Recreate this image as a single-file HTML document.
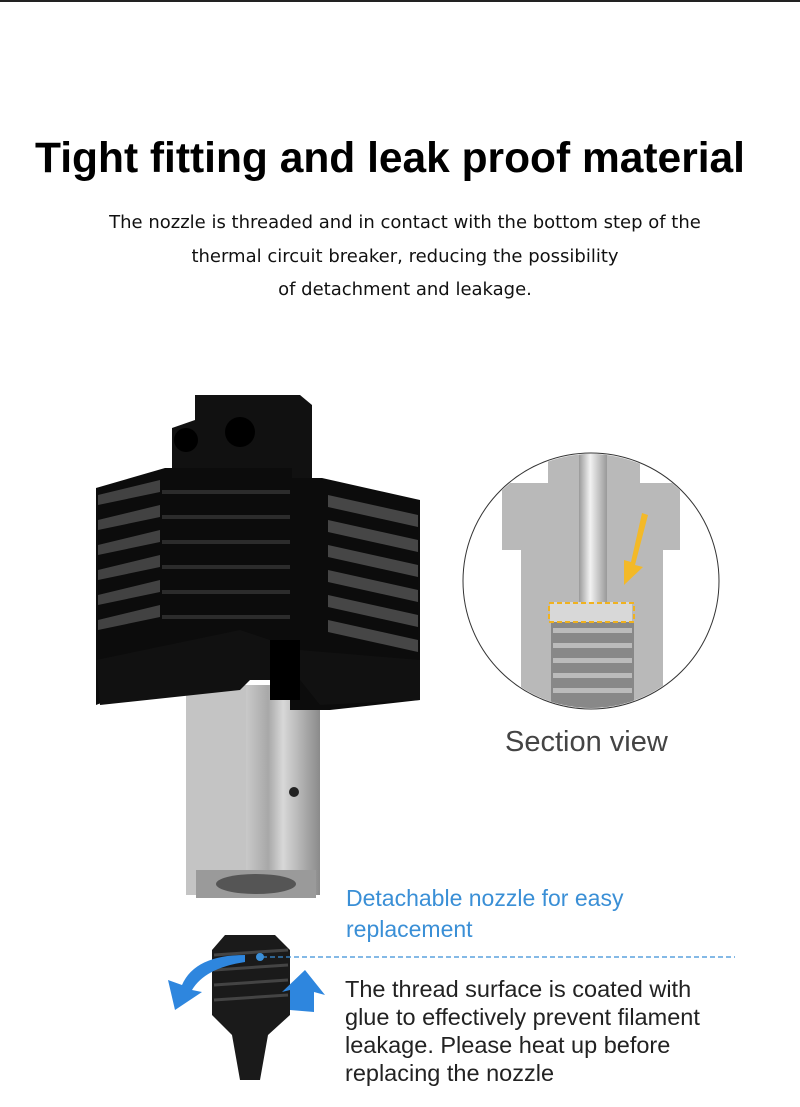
<!DOCTYPE html>
<html><head><meta charset="utf-8"><style>
body{margin:0;background:#fff;width:800px;height:1107px;overflow:hidden;position:relative;font-family:"Liberation Sans",sans-serif}
.t{position:absolute;white-space:nowrap}
</style></head><body>
<div style="position:absolute;left:0;top:0;width:800px;height:2px;background:#222"></div>
<div class="t" style="left:0;width:780px;text-align:center;top:135px;font-size:42.5px;font-weight:bold;color:#000">Tight fitting and leak proof material</div>
<div class="t" style="left:0;width:810px;text-align:center;top:206px;line-height:33.5px;color:#111;font-family:'DejaVu Sans',sans-serif;font-size:18px">The nozzle is threaded and in contact with the bottom step of the<br>thermal circuit breaker, reducing the possibility<br>of detachment and leakage.</div>

<svg style="position:absolute;left:0;top:0" width="800" height="1107">
<defs>
<linearGradient id="sv" x1="0" x2="1"><stop offset="0" stop-color="#c9c9c9"/><stop offset=".3" stop-color="#a8a8a8"/><stop offset=".5" stop-color="#d8d8d8"/><stop offset="1" stop-color="#8a8a8a"/></linearGradient>
<linearGradient id="rod" x1="0" x2="1"><stop offset="0" stop-color="#9a9a9a"/><stop offset=".4" stop-color="#f2f2f2"/><stop offset="1" stop-color="#999"/></linearGradient>
<clipPath id="cc"><circle cx="591" cy="581" r="127"/></clipPath>
</defs>
<rect x="186" y="685" width="60" height="210" fill="#c4c4c4"/>
<rect x="246" y="685" width="74" height="210" fill="url(#sv)"/>
<rect x="196" y="870" width="120" height="28" fill="#9a9a9a"/>
<ellipse cx="256" cy="884" rx="40" ry="10" fill="#555"/>
<circle cx="294" cy="792" r="5" fill="#222"/>
<path d="M195 395 H300 L312 405 V480 H172 V428 L195 420 Z" fill="#111"/>
<circle cx="186" cy="440" r="12" fill="#000"/><circle cx="240" cy="432" r="15" fill="#000"/>
<path d="M96 488 L165 468 H292 V680 H160 L96 705 Z" fill="#0c0c0c"/>
<g fill="#555" opacity=".75">
<path d="M98 495 L160 480 V492 L98 505Z"/><path d="M98 520 L160 505 V517 L98 530Z"/><path d="M98 545 L160 530 V542 L98 555Z"/><path d="M98 570 L160 555 V567 L98 580Z"/><path d="M98 595 L160 580 V592 L98 605Z"/><path d="M98 620 L160 605 V617 L98 630Z"/>
</g>
<g fill="#2c2c2c"><rect x="162" y="490" width="130" height="4"/><rect x="162" y="515" width="130" height="4"/><rect x="162" y="540" width="130" height="4"/><rect x="162" y="565" width="130" height="4"/><rect x="162" y="590" width="130" height="4"/><rect x="162" y="615" width="130" height="4"/></g>
<path d="M290 478 H322 L420 500 V700 L330 710 H290 Z" fill="#0c0c0c"/>
<g fill="#5a5a5a" opacity=".75">
<path d="M328 495 L418 515 V527 L328 507Z"/><path d="M328 520 L418 540 V552 L328 532Z"/><path d="M328 545 L418 565 V577 L328 557Z"/><path d="M328 570 L418 590 V602 L328 582Z"/><path d="M328 595 L418 615 V627 L328 607Z"/><path d="M328 620 L418 640 V652 L328 632Z"/>
</g>
<path d="M96 660 L240 630 L300 650 L420 660 V700 L320 705 L300 680 H250 L240 690 L100 705 Z" fill="#111"/>
<path d="M270 640 H300 V700 H270Z" fill="#000"/>
<circle cx="591" cy="581" r="128" fill="#fff" stroke="#333" stroke-width="1"/>
<g clip-path="url(#cc)">
<path d="M548 440 H640 V483 H680 V550 H663 V720 H521 V550 V483 H502 V483 H548 Z" fill="#b9b9b9"/>
<path d="M502 483 H680 V550 H663 V720 H521 V550 H502 Z" fill="#b9b9b9"/>
<rect x="579" y="440" width="28" height="170" fill="url(#rod)"/>
<rect x="550" y="602" width="82" height="20" fill="#d8d8d8"/>
<rect x="551" y="622" width="83" height="90" fill="#888"/>
<g fill="#bbb"><rect x="553" y="628" width="79" height="5"/><rect x="553" y="643" width="79" height="5"/><rect x="553" y="658" width="79" height="5"/><rect x="553" y="673" width="79" height="5"/><rect x="553" y="688" width="79" height="5"/></g>
<rect x="549" y="603" width="85" height="19" fill="none" stroke="#f0b21f" stroke-width="2" stroke-dasharray="5 3"/>
<path d="M648 515 L635 565 L643 567 L624 585 L624 560 L631 562 L642 513Z" fill="#f3b928"/>
</g>
<path d="M225 935 H275 L290 950 V1015 L268 1035 L260 1080 H240 L232 1035 L212 1015 V950 Z" fill="#1a1a1a"/>
<g stroke="#444" stroke-width="3"><line x1="214" y1="955" x2="288" y2="950"/><line x1="214" y1="970" x2="288" y2="965"/><line x1="214" y1="985" x2="288" y2="980"/><line x1="214" y1="1000" x2="288" y2="995"/></g>
<circle cx="260" cy="957" r="4" fill="#3b8fd8"/>
<path d="M245 955 Q195 955 182 985 L168 980 L175 1010 L202 992 L192 990 Q205 968 245 962Z" fill="#2e86de"/>
<path d="M290 1010 L290 990 L282 992 L305 970 L325 995 L314 992 L314 1012Z" fill="#2e86de"/>
<line x1="262" y1="957" x2="735" y2="957" stroke="#3b8fd8" stroke-width="1.2" stroke-dasharray="5 3"/>
</svg>
<div class="t" style="left:505px;top:726px;font-size:29px;color:#444">Section view</div>
<div class="t" style="left:346px;top:883px;font-size:23px;line-height:31px;color:#3a8fd6">Detachable nozzle for easy<br>replacement</div>
<div class="t" style="left:345px;top:975px;font-size:23.5px;line-height:28px;color:#222">The thread surface is coated with<br>glue to effectively prevent filament<br>leakage. Please heat up before<br>replacing the nozzle</div>
</body></html>
